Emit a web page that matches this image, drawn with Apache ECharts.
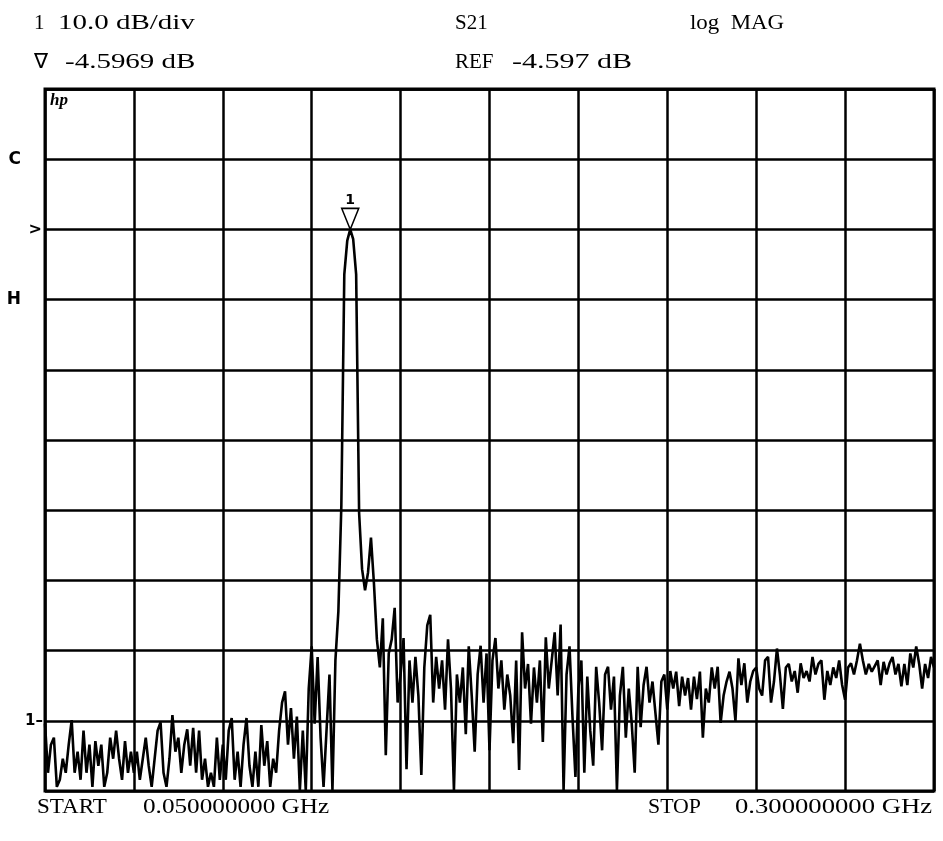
<!DOCTYPE html>
<html>
<head>
<meta charset="utf-8">
<script src="https://cdn.jsdelivr.net/npm/echarts@6/dist/echarts.min.js"></script>
<style>
  html, body { margin: 0; padding: 0; background: #fff; }
  #chart { width: 943px; height: 841px; }
</style>
</head>
<body>
<div id="chart"></div>
<script>
// sweep settings (GHz)
const sweepStart = 0.05;
const sweepStop = 0.3;
const freqStep = 0.025;

// reference level / scale (dB)
const refLevel = -4.597;
const dbPerDiv = 10;

// S21 log MAG trace, one value per sweep point (dB)
const levels = [
  // 0.050 - 0.075
  -75, -82, -78, -77, -84, -83, -80, -82, -78, -74.5, -82, -79, -83, -76, -82, -78, -84, -77.5, -81, -78, -84, -82, -77, -80, -76, -80, -83, -77.5, -82, -79,
  // 0.075 - 0.100
  -82, -79, -83, -80, -77, -81, -84, -80, -76, -74.8, -82, -84, -80, -73.8, -79, -77, -82, -78, -75.8, -81, -75.6, -82, -76, -83, -80, -84, -82, -84, -77, -83,
  // 0.100 - 0.125
  -78, -83, -76, -74.2, -83, -79, -84, -78, -74.2, -81, -84, -79, -84, -75.2, -81, -77.5, -84, -80, -82, -76, -72, -70.4, -78, -72.8, -80, -74, -84.5, -76, -84.5, -70,
  // 0.125 - 0.150 (resonance)
  -64, -75, -65.5, -77, -84, -76, -68, -84.5, -66, -59, -44, -11, -6.2, -4.597, -6, -11, -45, -53, -56, -53.5, -48.5, -55, -63, -67, -60, -79.5, -65, -63, -58.5, -72,
  // 0.150 - 0.175
  -68, -62.8, -81.5, -66, -72, -65.5, -71, -82.3, -67, -61, -59.5, -72, -65.5, -70, -66, -73, -63, -70, -84.5, -68, -72, -67, -76.5, -64, -71, -79, -68, -63.9, -72, -65,
  // 0.175 - 0.200
  -78.8, -66, -62.8, -70, -66, -73, -68, -71, -77.8, -66, -81.6, -62, -70, -66.5, -75, -67, -72, -66, -77.6, -62.7, -70, -66, -62, -71, -60.9, -84.5, -68, -64, -74, -82.6,
  // 0.200 - 0.225
  -70, -66, -82, -68.3, -76, -81, -66.9, -72, -78.8, -68, -66.9, -73, -68.3, -84.5, -71, -66.9, -77, -70, -75, -82, -66.9, -75.5, -69.5, -66.9, -72, -69, -73.5, -78, -69, -68,
  // 0.225 - 0.250
  -73, -67.5, -70, -67.6, -72.5, -68.3, -71, -68.5, -73, -68.3, -71.5, -67.6, -77, -70, -72, -67, -70, -66.9, -74.9, -71, -69, -67.6, -70, -74.6, -65.7, -69.5, -66.4, -72, -69, -67.5,
  // 0.250 - 0.275
  -67, -70, -71, -66, -65.5, -72, -69, -64.3, -68, -72.9, -67, -66.5, -69, -67.5, -70.6, -66.4, -68.5, -67.5, -69, -65.5, -68, -66.5, -66, -71.6, -67.5, -69.5, -67, -68.5, -66, -69.5,
  // 0.275 - 0.300
  -71.6, -67, -66.4, -68, -66, -63.6, -66, -68, -66.5, -67.6, -66.8, -66, -69.5, -66.2, -68, -66.4, -65.5, -68, -66.5, -69.7, -66.5, -69.5, -65, -67, -64, -66.5, -70, -66.5, -68.5, -65.5, -67
];

// labels on the left edge, by division index from the bottom
const leftMarks = { 1: '1', 7: 'H', 8: '>', 9: 'C' };

// annotation texts
const headerTop = ['1', '10.0 dB/div', 'S21', 'log  MAG'];
const headerBottom = ['\u2207', '-4.5969 dB', 'REF', '-4.597 dB'];
const footer = ['START', '0.050000000 GHz', 'STOP', '0.300000000 GHz'];

const yMin = refLevel - 8 * dbPerDiv;
const yMax = refLevel + 2 * dbPerDiv;

const trace = levels.map((v, i) => [sweepStart + i * (sweepStop - sweepStart) / (levels.length - 1), v]);
let peakIdx = 0;
levels.forEach((v, i) => { if (v > levels[peakIdx]) peakIdx = i; });

const serif = '"Liberation Serif", "Times New Roman", serif';
const sans = '"DejaVu Sans", sans-serif';
// the analyzer printout uses a horizontally stretched serif, hence scaleX
const txt = (x, y, s, sx) => ({
  type: 'text', left: x, top: y, scaleX: sx || 1,
  style: { text: s, font: '21px ' + serif, fill: '#000' }
});

const chart = echarts.init(document.getElementById('chart'));
chart.setOption({
  animation: false,
  backgroundColor: '#fff',
  grid: { left: 45, right: 9, top: 89, bottom: 50, show: true, borderColor: '#000', borderWidth: 3 },
  xAxis: {
    type: 'value', min: sweepStart, max: sweepStop, interval: freqStep,
    axisLine: { show: false }, axisTick: { show: false }, axisLabel: { show: false },
    splitLine: { show: true, lineStyle: { color: '#000', width: 2.5 } }
  },
  yAxis: {
    type: 'value', min: yMin, max: yMax, interval: dbPerDiv,
    axisLine: { show: false }, axisTick: { show: false },
    splitLine: { show: true, lineStyle: { color: '#000', width: 2.5 } },
    axisLabel: {
      show: true, margin: 2,
      formatter: (v) => {
        const k = Math.round((v - yMin) / dbPerDiv);
        const m = leftMarks[k];
        if (!m) return '';
        if (m === '>') return '{arr|>}';
        if (m === '1') return '{one|1\u2013}';
        return '{big|' + m + '}';
      },
      rich: {
        big: { fontFamily: sans, fontWeight: 'bold', fontSize: 17, color: '#000', padding: [0, 22, 0, 0] },
        arr: { fontFamily: sans, fontWeight: 'bold', fontSize: 16, color: '#000', padding: [0, 1, 0, 0] },
        one: { fontFamily: sans, fontWeight: 'bold', fontSize: 15, color: '#000', padding: [0, 0, 0, 0] }
      }
    }
  },
  graphic: [
    txt(34, 13, headerTop[0]),
    txt(58, 13, headerTop[1], 1.38),
    txt(455, 13, headerTop[2]),
    txt(690, 13, headerTop[3], 1.09),
    txt(34, 52, headerBottom[0]),
    txt(65, 52, headerBottom[1], 1.38),
    txt(455, 52, headerBottom[2]),
    txt(512, 52, headerBottom[3], 1.43),
    txt(37, 797, footer[0], 1.1),
    txt(143, 797, footer[1], 1.2),
    txt(648, 797, footer[2], 1.04),
    txt(735, 797, footer[3], 1.27),
    { type: 'text', left: 50, top: 92, style: { text: 'hp', font: 'italic bold 17px ' + serif, fill: '#000' } }
  ],
  series: [{
    type: 'line',
    data: trace,
    showSymbol: false,
    lineStyle: { color: '#000', width: 2.6 },
    markPoint: {
      symbol: 'triangle',
      symbolRotate: 180,
      symbolSize: [17, 21],
      symbolOffset: [0, -10.5],
      itemStyle: { color: '#fff', borderColor: '#000', borderWidth: 1.6 },
      label: { show: true, position: 'top', distance: 0, formatter: '1', color: '#000', fontWeight: 'bold', fontSize: 14, fontFamily: sans },
      data: [{ coord: trace[peakIdx] }]
    }
  }]
});
</script>
</body>
</html>
